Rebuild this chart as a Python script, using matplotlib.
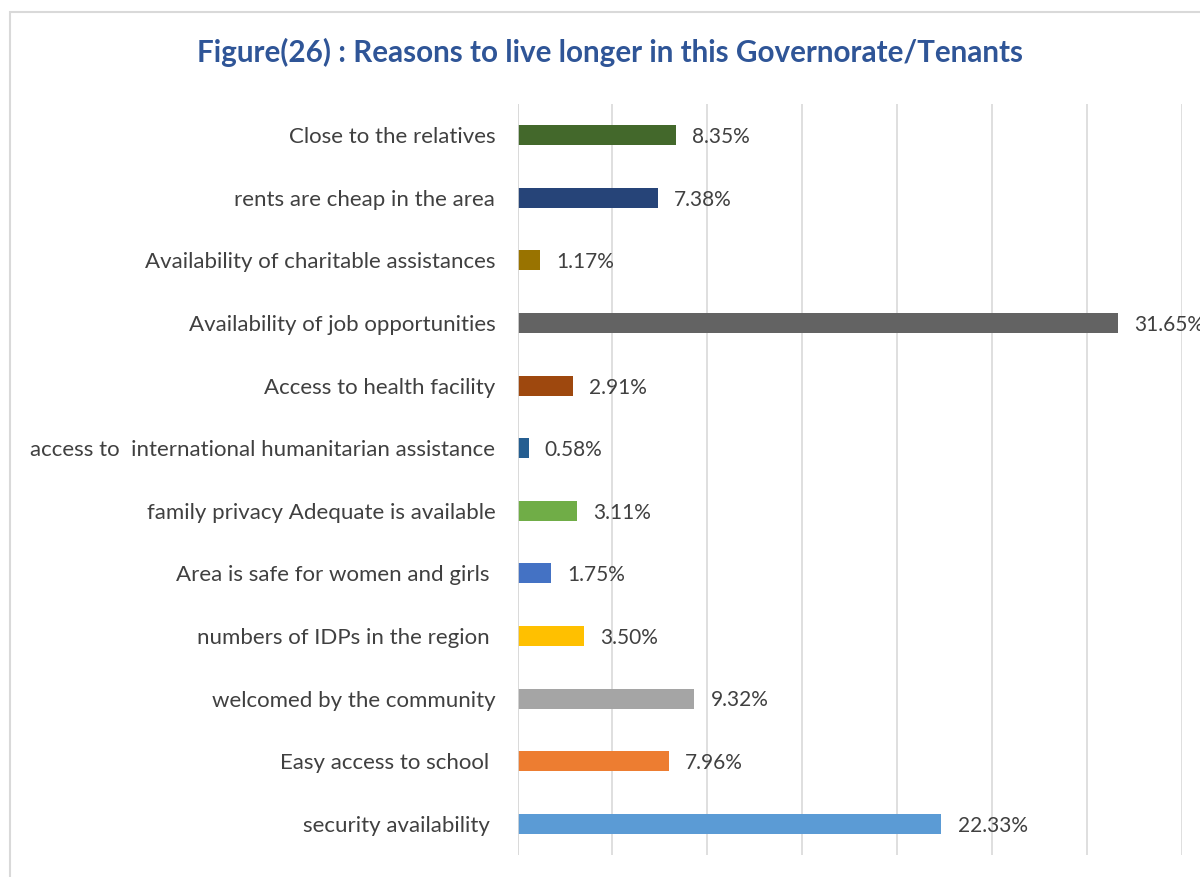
import matplotlib.pyplot as plt
from matplotlib.patches import Rectangle

# categories bottom -> top
labels = ['security availability ', 'Easy access to school ', 'welcomed by the community',
          'numbers of IDPs in the region ', 'Area is safe for women and girls ',
          'family privacy Adequate is available', 'access to  international humanitarian assistance',
          'Access to health facility', 'Availability of job opportunities',
          'Availability of charitable assistances', 'rents are cheap in the area',
          'Close to the relatives']
values = [22.33, 7.96, 9.32, 3.50, 1.75, 3.11, 0.58, 2.91, 31.65, 1.17, 7.38, 8.35]
colors = ['#5B9BD5', '#ED7D31', '#A5A5A5', '#FFC000', '#4472C4', '#70AD47',
          '#255E91', '#9E480E', '#636363', '#997300', '#264478', '#43682B']

plt.rcParams['font.family'] = ['Lato', 'DejaVu Sans']

fig = plt.figure(figsize=(12, 8.77), dpi=100)
ax = fig.add_axes([517.5/1200, 1-855/877, (1182-517.5)/1200, (855-104)/877])

y = range(len(values))
ax.barh(y, values, height=0.32, color=colors, zorder=3)
for i, v in enumerate(values):
    ax.text(v + 0.85, i - 0.03, f'{v:.2f}%', va='center', ha='left',
            fontsize=15, color='#404040', clip_on=False)

ax.set_xlim(0, 35)
ax.set_ylim(-0.5, len(values) - 0.5)
ax.set_xticks(range(0, 36, 5))
ax.set_xticklabels([])
ax.tick_params(axis='x', length=0)
ax.tick_params(axis='y', length=0, pad=16, labelsize=16, labelcolor='#404040')
ax.set_yticks(list(y))
ax.set_yticklabels(labels)
ax.grid(axis='x', color='#D9D9D9', linewidth=1.2, zorder=0)
for s in ax.spines.values():
    s.set_visible(False)
ax.axvline(0, color='#D9D9D9', linewidth=1.2, zorder=4)

fig.text(610/1200, 1-52/877, 'Figure(26) : Reasons to live longer in this Governorate/Tenants',
         ha='center', va='center', fontsize=21.3, fontweight='bold', color='#2F5597')

# outer chart frame
fig.patches.append(Rectangle((10/1200, -0.05), 1.1, 1 - 12/877 + 0.05,
                             transform=fig.transFigure, fill=False,
                             edgecolor='#D9D9D9', linewidth=1.5))

fig.savefig('out.png', dpi=100)
